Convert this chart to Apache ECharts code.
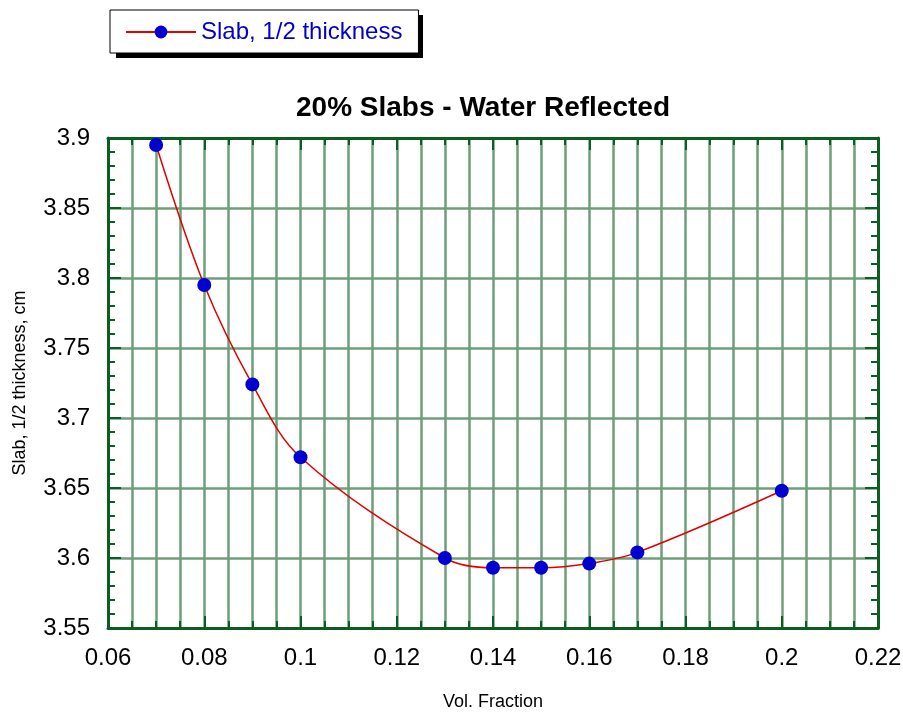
<!DOCTYPE html>
<html><head><meta charset="utf-8">
<script src="https://cdn.jsdelivr.net/npm/echarts@6/dist/echarts.min.js"></script>
<style>html,body{margin:0;padding:0;background:#fff}#c{width:903px;height:715px}</style>
</head><body><div id="c"></div>
<script>
const volFraction = [0.07, 0.08, 0.09, 0.10, 0.13, 0.14, 0.15, 0.16, 0.17, 0.20];
const halfThickness = [3.895, 3.795, 3.724, 3.672, 3.600, 3.593, 3.593, 3.596, 3.604, 3.648];
const seriesName = 'Slab, 1/2 thickness';

const axisGreen = '#0b5e22';
const gridGreen = '#6f9f78';
const font = 'Liberation Sans, Arial, sans-serif';

const chart = echarts.init(document.getElementById('c'));
const baseX = {
  type: 'value', min: 0.06, max: 0.22, interval: 0.02,
  axisLine: {show: true, onZero: false, lineStyle: {color: axisGreen, width: 3}},
  axisTick: {show: true, inside: true, length: 12, lineStyle: {color: axisGreen, width: 2}},
  minorTick: {show: true, splitNumber: 4, length: 7, lineStyle: {color: axisGreen, width: 2}}
};
const baseY = {
  type: 'value', min: 3.55, max: 3.9, interval: 0.05,
  axisLine: {show: true, onZero: false, lineStyle: {color: axisGreen, width: 3}},
  axisTick: {show: true, inside: true, length: 13, lineStyle: {color: axisGreen, width: 2}},
  minorTick: {show: true, splitNumber: 5, length: 7, lineStyle: {color: axisGreen, width: 2}}
};
chart.setOption({
  animation: false,
  title: {
    text: '20% Slabs - Water Reflected', left: 478, top: 89, textAlign: 'center',
    textStyle: {fontFamily: font, fontSize: 28, fontWeight: 'bold', color: '#000'}
  },
  graphic: [{
    type: 'rect', z: 1, silent: true,
    shape: {x: 116, y: 15, width: 307, height: 43},
    style: {fill: '#000', stroke: null}
  }],
  legend: {
    left: 110, top: 10, z: 10,
    padding: [10, 16, 9, 15],
    backgroundColor: '#fff', borderColor: '#000', borderWidth: 1,
    itemWidth: 70, itemHeight: 16,
    textStyle: {fontFamily: font, fontSize: 24, color: '#0000cc'},
    data: [seriesName]
  },
  grid: {left: 108, top: 138, width: 770, height: 490, containLabel: false, outerBoundsMode: 'none'},
  xAxis: [
    Object.assign({}, baseX, {
      position: 'bottom',
      name: 'Vol. Fraction', nameLocation: 'middle', nameGap: 65,
      nameTextStyle: {fontFamily: font, fontSize: 18, color: '#000'},
      axisLabel: {show: true, margin: 18, fontFamily: font, fontSize: 24, color: '#000'},
      splitLine: {show: true, lineStyle: {color: gridGreen, width: 2.5}},
      minorSplitLine: {show: true, lineStyle: {color: gridGreen, width: 2.5}}
    }),
    Object.assign({}, baseX, {
      position: 'top', axisLabel: {show: false}, splitLine: {show: false}
    })
  ],
  yAxis: [
    Object.assign({}, baseY, {
      position: 'left',
      name: 'Slab, 1/2 thickness, cm', nameLocation: 'middle', nameGap: 79, nameRotate: 90,
      nameTextStyle: {fontFamily: font, fontSize: 18, color: '#000'},
      axisLabel: {show: true, margin: 18, fontFamily: font, fontSize: 24, color: '#000'},
      splitLine: {show: true, lineStyle: {color: gridGreen, width: 2.5}},
      minorSplitLine: {show: false}
    }),
    Object.assign({}, baseY, {
      position: 'right', axisLabel: {show: false}, splitLine: {show: false}
    })
  ],
  series: [{
    name: seriesName, type: 'line', xAxisIndex: 0, yAxisIndex: 0,
    data: volFraction.map((x, i) => [x, halfThickness[i]]),
    smooth: 0.35,
    symbol: 'circle', symbolSize: 14,
    lineStyle: {color: '#e00000', width: 1.5},
    itemStyle: {color: '#0000d0'},
    z: 5
  }]
});
</script></body></html>
